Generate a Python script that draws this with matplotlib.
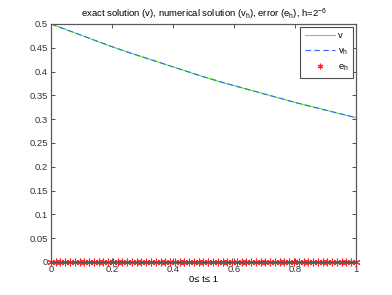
import numpy as np
from matplotlib import pyplot as plt

plt.rcParams['font.family'] = ['Liberation Sans', 'DejaVu Sans']
plt.rcParams['mathtext.fontset'] = 'custom'
plt.rcParams['mathtext.rm'] = 'Liberation Sans'

# exact / numerical solution read every 1/16 along t
t_coarse = np.linspace(0, 1, 17)
v = [0.500, 0.485, 0.470, 0.455, 0.441, 0.428, 0.415, 0.402, 0.389,
     0.377, 0.366, 0.355, 0.344, 0.333, 0.323, 0.313, 0.303]
v_h = [0.500, 0.485, 0.470, 0.455, 0.441, 0.428, 0.415, 0.402, 0.389,
       0.377, 0.366, 0.355, 0.344, 0.333, 0.323, 0.313, 0.303]

# error at each grid node, h = 2^-6
t_fine = np.linspace(0, 1, 65)
e_h = np.zeros(65)

fig = plt.figure(figsize=(3.92, 2.95), dpi=100)
ax = fig.add_axes([0.130, 0.112, 0.778, 0.807])

ax.plot(t_coarse, v, color='#55ee22', lw=0.8, label='v')
ax.plot(t_coarse, v_h, color='#3366ff', lw=0.8, ls=(0, (5, 3)), label=r'v$_{\rm h}$')
ax.plot(t_fine, e_h, ls='none', marker=(6, 2, 0), color='#ff2222', ms=5.5,
        mew=0.8, label=r'e$_{\rm h}$', clip_on=False)

ax.set_xlim(0, 1)
ax.set_ylim(0, 0.5)
ax.set_xticks(np.arange(0, 1.01, 0.2))
ax.set_xticklabels(['0', '0.2', '0.4', '0.6', '0.8', '1'])
ax.set_yticks(np.arange(0, 0.501, 0.05))
ax.set_yticklabels(['0', '0.05', '0.1', '0.15', '0.2', '0.25', '0.3',
                    '0.35', '0.4', '0.45', '0.5'])
ax.tick_params(direction='in', top=True, right=True, labelsize=6.8,
               length=3, width=0.6, colors='0.2', pad=2)
for s in ax.spines.values():
    s.set_color('0.35')
    s.set_linewidth(0.9)

ax.set_xlabel('0≤ t≤ 1', fontsize=6.8, labelpad=1)
ax.set_title(r'exact solution (v), numerical solution (v$_{\rm h}$), error (e$_{\rm h}$), h=2$^{-6}$',
             fontsize=6.8, pad=5)

leg = ax.legend(loc='upper right', fontsize=6.8, fancybox=False, framealpha=1,
                edgecolor='0.3', handlelength=3.2, handletextpad=0.3,
                borderpad=0.5, labelspacing=0.6, numpoints=1,
                borderaxespad=0.3)
leg.get_frame().set_linewidth(0.8)
leg.legend_handles[2].set_markersize(4)

fig.savefig('out.png', dpi=100)
